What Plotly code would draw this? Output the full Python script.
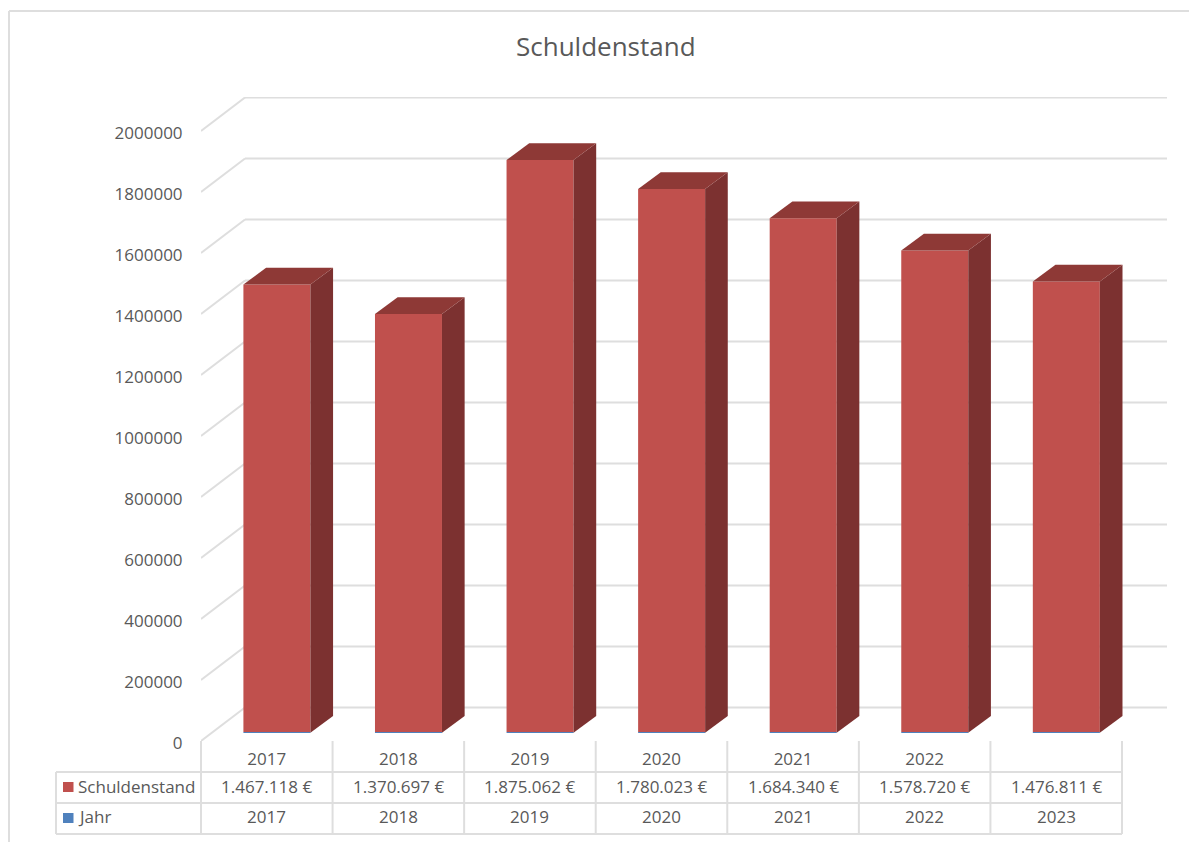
import plotly.graph_objects as go

# ---- data ----
years = ["2017", "2018", "2019", "2020", "2021", "2022", "2023"]
axis_years = ["2017", "2018", "2019", "2020", "2021", "2022", ""]
schulden = [1467118, 1370697, 1875062, 1780023, 1684340, 1578720, 1476811]
jahr = [2017, 2018, 2019, 2020, 2021, 2022, 2023]
schulden_labels = ["1.467.118 €", "1.370.697 €", "1.875.062 €", "1.780.023 €",
                   "1.684.340 €", "1.578.720 €", "1.476.811 €"]
y_ticks = [0, 200000, 400000, 600000, 800000, 1000000, 1200000, 1400000,
           1600000, 1800000, 2000000]
title = "Schuldenstand"

# ---- page geometry (pixels) ----
W, H = 1189, 842
LEFT, RIGHT, TOP, BOTTOM = 201.0, 1167.0, 97.0, 741.0
CAT_PX = (1122.0 - 201.0) / 7
VAL_PX = 610.0 / 2000000
DEPTH_X_PX, DEPTH_Y_PX = 44.0, 33.5

# ---- derived axis units ----
depth_x = DEPTH_X_PX / CAT_PX
depth_y = DEPTH_Y_PX / VAL_PX
x_max = (RIGHT - LEFT) / CAT_PX
y_max = (BOTTOM - TOP) / VAL_PX
BAR_W = 67.0 / CAT_PX
D0, D1 = 0.25, 0.75

GRID = "#dedede"
TXT = "#595959"
FONT = "Open Sans"
RED, RED_SIDE, RED_TOP = "#c0504d", "#7c3130", "#8e3936"
BLUE = "#4f81bd"


def px(x):
    return (x - LEFT) / (RIGHT - LEFT)


def py(y):
    return (BOTTOM - y) / (BOTTOM - TOP)


fig = go.Figure()

# front faces
centers = [i + 0.5 + (D0 - 0.02) * depth_x for i in range(7)]
fig.add_trace(go.Bar(x=centers, y=jahr, base=[D0 * depth_y] * 7, width=BAR_W,
                     marker=dict(color=BLUE, line_width=0), name="Jahr", showlegend=False))
fig.add_trace(go.Bar(x=centers, y=schulden,
                     base=[D0 * depth_y + j for j in jahr], width=BAR_W,
                     marker=dict(color=RED, line_width=0), name="Schuldenstand", showlegend=False))

# side and top faces, computed from the values
ddx = (D1 - D0) * depth_x * 1.03
ddy = (D1 - D0) * depth_y
for c, v, j in zip(centers, schulden, jahr):
    r = c + BAR_W / 2
    l = c - BAR_W / 2
    b = D0 * depth_y
    t = b + v + j
    fig.add_trace(go.Scatter(x=[r, r + ddx, r + ddx, r, r], y=[b, b + ddy, t + ddy, t, b],
                             mode="lines", fill="toself", fillcolor=RED_SIDE,
                             line=dict(width=0), hoverinfo="skip", showlegend=False))
    fig.add_trace(go.Scatter(x=[l, l + ddx, r + ddx, r, l], y=[t, t + ddy, t + ddy, t, t],
                             mode="lines", fill="toself", fillcolor=RED_TOP,
                             line=dict(width=0), hoverinfo="skip", showlegend=False))

shapes = []
# wall gridlines and side-wall diagonals
for tv in y_ticks:
    shapes.append(dict(type="line", layer="below", xref="x", yref="y",
                       x0=0, y0=tv, x1=depth_x, y1=tv + depth_y,
                       line=dict(color=GRID, width=2)))
    shapes.append(dict(type="line", layer="below", xref="x", yref="y",
                       x0=depth_x, y0=tv + depth_y, x1=x_max, y1=tv + depth_y,
                       line=dict(color=GRID, width=2)))


def pline(x0, y0, x1, y1, color=GRID, width=2):
    shapes.append(dict(type="line", xref="paper", yref="paper",
                       x0=px(x0), y0=py(y0), x1=px(x1), y1=py(y1),
                       line=dict(color=color, width=width)))


# outer chart frame
pline(9, 11, 1189, 11)
pline(9, 11, 9, 842)
# data table
for yy in (772, 803, 834):
    pline(56, yy, 1122, yy)
pline(56, 772, 56, 834)
for i in range(8):
    xx = LEFT + i * CAT_PX
    pline(xx, 741, xx, 834)
# legend keys
for col, yc in ((RED, 787), (BLUE, 818)):
    shapes.append(dict(type="rect", xref="paper", yref="paper", line_width=0, fillcolor=col,
                       x0=px(63), x1=px(73.5), y0=py(yc - 5), y1=py(yc + 5)))

annotations = []


def label(text, xval, xref, y, anchor="center", size=17):
    annotations.append(dict(text=text, x=xval, xref=xref, y=py(y), yref="paper",
                            xanchor=anchor, yanchor="middle", showarrow=False,
                            font=dict(family=FONT, size=size, color=TXT)))


for i in range(7):
    label(schulden_labels[i], i + 0.5, "x", 786)
    label(years[i], i + 0.5, "x", 817)
label("Schuldenstand", px(76), "paper", 786, "left")
label("Jahr", px(76), "paper", 817, "left")
label(title, px(606), "paper", 46, "center", 26)

fig.update_layout(
    width=W, height=H,
    margin=dict(l=LEFT, r=W - RIGHT, t=TOP, b=H - BOTTOM, pad=0),
    paper_bgcolor="white", plot_bgcolor="white",
    showlegend=False, barmode="overlay",
    shapes=shapes, annotations=annotations,
    font=dict(family=FONT, size=17, color=TXT),
    xaxis=dict(range=[0, x_max], tickmode="array",
               tickvals=[i + 0.5 for i in range(7)], ticktext=axis_years,
               showgrid=False, zeroline=False, showline=False,
               ticks="outside", ticklen=3, tickcolor="rgba(0,0,0,0)",
               tickfont=dict(family=FONT, size=17, color=TXT)),
    yaxis=dict(range=[0, y_max], tickmode="array", tickvals=y_ticks,
               ticktext=[str(t) for t in y_ticks],
               showgrid=False, zeroline=False, showline=False,
               ticks="outside", ticklen=14, tickcolor="rgba(0,0,0,0)",
               ticklabelshift=2,
               tickfont=dict(family=FONT, size=17, color=TXT)),
)

fig.write_html("out.html", config={"displayModeBar": False},
               post_script="document.body.style.margin='0';document.body.style.overflow='hidden';")
